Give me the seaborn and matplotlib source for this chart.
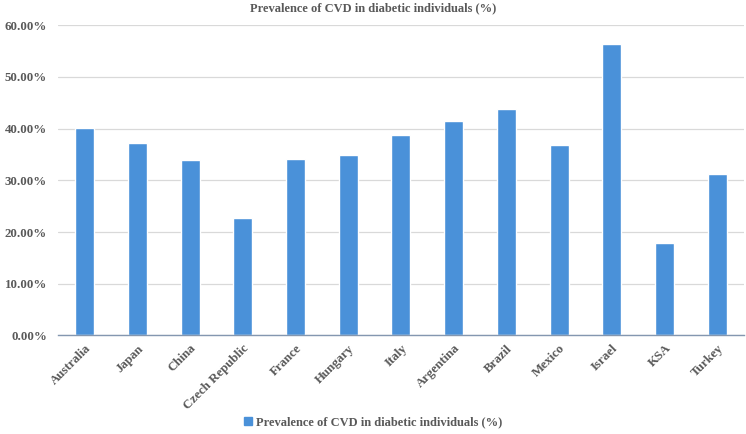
import pandas as pd
import numpy as np
import seaborn as sns
import matplotlib.pyplot as plt
from matplotlib.patches import Patch
from matplotlib.ticker import PercentFormatter

countries = ['Australia', 'Japan', 'China', 'Czech Republic', 'France', 'Hungary', 'Italy',
             'Argentina', 'Brazil', 'Mexico', 'Israel', 'KSA', 'Turkey']
prevalence = [40.2, 37.2, 33.9, 22.7, 34.1, 34.9, 38.7, 41.4, 43.8, 36.8, 56.4, 17.9, 31.2]
series_name = 'Prevalence of CVD in diabetic individuals (%)'

df = pd.DataFrame({'country': countries, 'value': prevalence})

sns.set_style('white')
plt.rcParams['font.family'] = ['Liberation Serif', 'DejaVu Serif']
text_col = '#595959'
bar_col = '#4a91d9'

fig = plt.figure(figsize=(7.46, 4.34), dpi=100)
ax = fig.add_axes([0.078, 0.227, 0.919, 0.715])

sns.barplot(data=df, x='country', y='value', color=bar_col, width=0.36, saturation=1, ax=ax, zorder=3)

ax.set_ylim(0, 60)
ax.set_yticks(np.arange(0, 61, 10))
ax.yaxis.set_major_formatter(PercentFormatter(decimals=2))
ax.grid(axis='y', color='#d9d9d9', linewidth=0.9, zorder=0)
ax.set_xlim(-0.5, len(countries) - 0.5)
for s in ['top', 'right', 'left']:
    ax.spines[s].set_visible(False)
ax.spines['bottom'].set_color('#8497b0')
ax.spines['bottom'].set_linewidth(1.0)
ax.spines['bottom'].set_zorder(4)
ax.tick_params(axis='y', length=0, pad=8)
ax.tick_params(axis='x', length=0, pad=5)
ax.set_xlabel('')
ax.set_ylabel('')

plt.setp(ax.get_yticklabels(), fontsize=9.3, fontweight='bold', color=text_col)
plt.setp(ax.get_xticklabels(), fontsize=9.3, fontweight='bold', color=text_col,
         rotation=45, ha='right', rotation_mode='anchor')

fig.suptitle(series_name, y=0.995, va='top', fontsize=9, fontweight='bold', color=text_col)

fig.legend(handles=[Patch(color=bar_col, label=series_name)], loc='lower center',
           bbox_to_anchor=(0.5, -0.012), frameon=False,
           handlelength=0.6, handleheight=0.6, handletextpad=0.3,
           prop={'weight': 'bold', 'size': 9}, labelcolor=text_col)

fig.savefig('out.png', dpi=100)
